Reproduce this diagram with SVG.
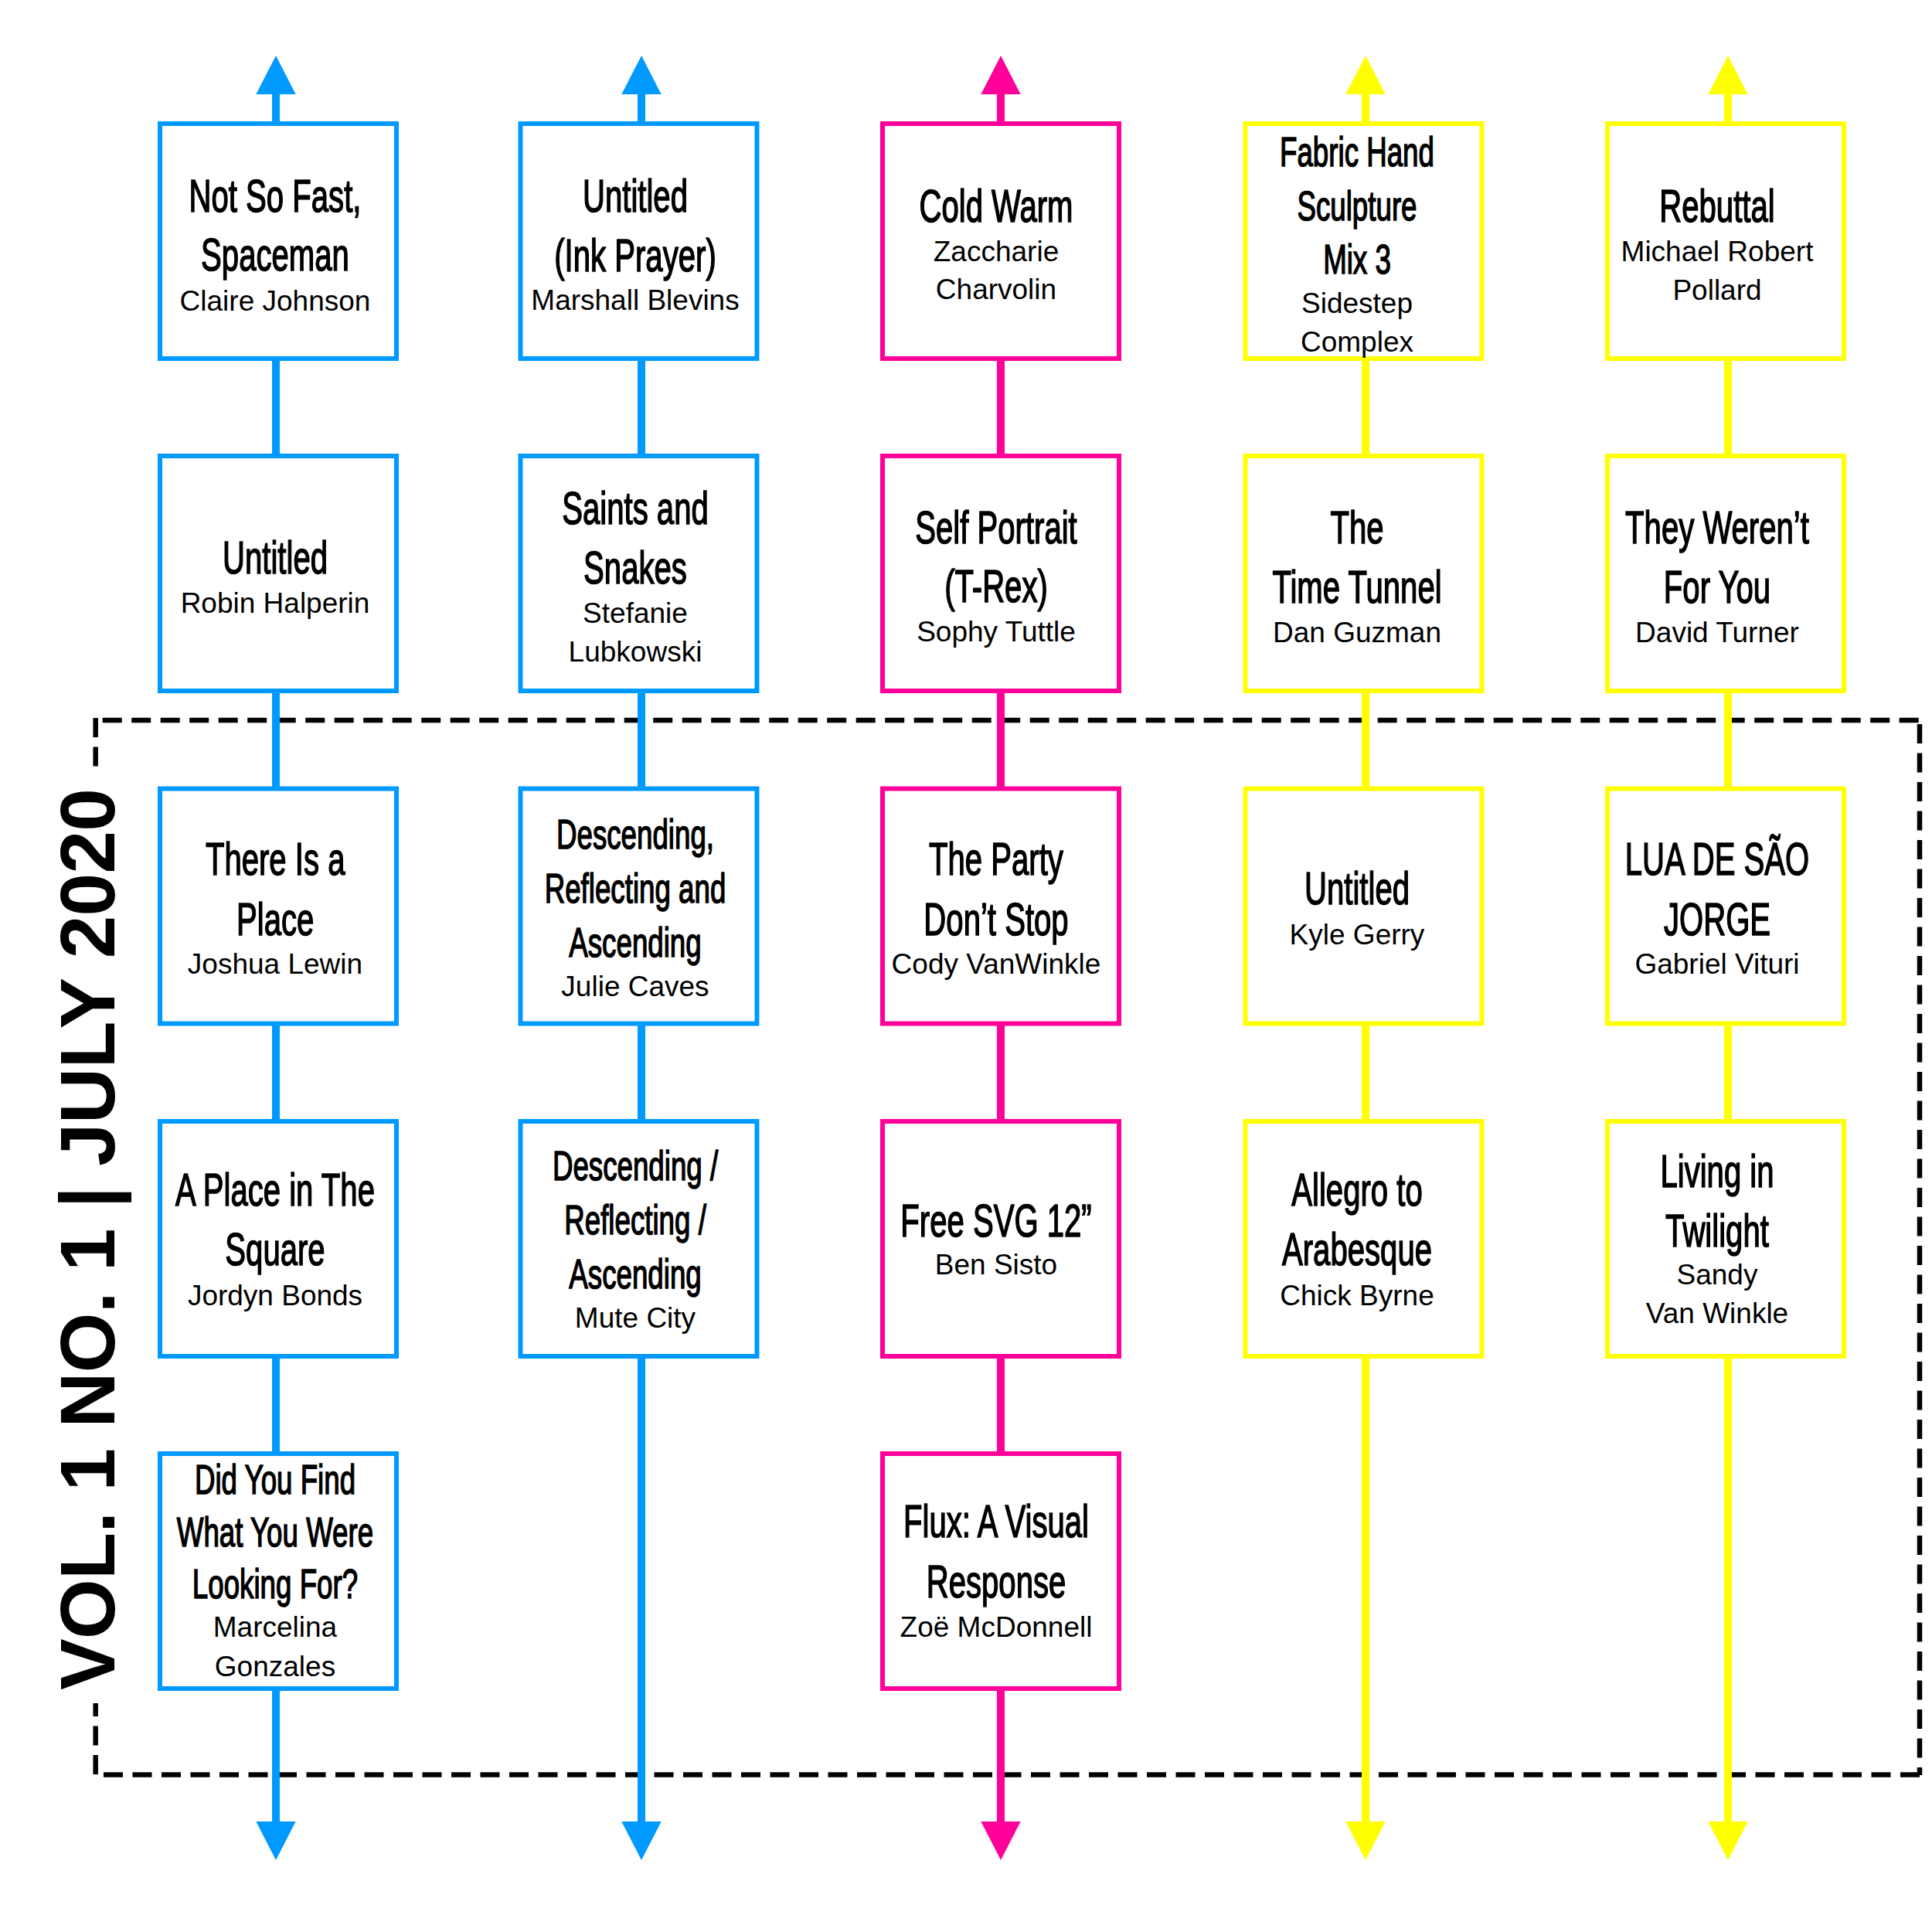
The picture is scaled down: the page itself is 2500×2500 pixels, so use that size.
<svg xmlns="http://www.w3.org/2000/svg" width="2500" height="2500" viewBox="0 0 2500 2500">
<style>
.box{fill:#fff;stroke-width:6}
.b{stroke:#0099FF}.m{stroke:#FF0099}.y{stroke:#FFFF00}
.t{font-family:"Liberation Sans",Arial,sans-serif;font-size:59px;text-anchor:middle;fill:#000;stroke:#000;stroke-width:1.6;transform-box:fill-box;transform-origin:center;transform:scaleX(0.68)}
.ts{font-size:54px}
.a{font-family:"Liberation Sans",Arial,sans-serif;font-size:37px;text-anchor:middle;fill:#000}
.c{stroke-width:10;fill:none}
.dash{stroke:#000;stroke-width:6.5;stroke-dasharray:25 12.5;fill:none}
.vt{font-family:"Liberation Sans",Arial,sans-serif;font-weight:bold;font-size:100px;fill:#000}
</style>
<defs>
<marker id="ab" markerUnits="userSpaceOnUse" markerWidth="50" markerHeight="52" viewBox="0 -26 50 52" refX="0" refY="0" orient="auto"><path d="M0,-25.7L50,0L0,25.7Z" fill="#0099FF"/></marker>
<marker id="am" markerUnits="userSpaceOnUse" markerWidth="50" markerHeight="52" viewBox="0 -26 50 52" refX="0" refY="0" orient="auto"><path d="M0,-25.7L50,0L0,25.7Z" fill="#FF0099"/></marker>
<marker id="ay" markerUnits="userSpaceOnUse" markerWidth="50" markerHeight="52" viewBox="0 -26 50 52" refX="0" refY="0" orient="auto"><path d="M0,-25.7L50,0L0,25.7Z" fill="#FFFF00"/></marker>
</defs>
<rect width="2500" height="2500" fill="#fff"/>

<g id="frame">
<line class="dash" x1="132.7" y1="932" x2="2484" y2="932"/>
<line class="dash" x1="2484" y1="937" x2="2484" y2="2297"/>
<line class="dash" x1="2484" y1="2296.5" x2="124" y2="2296.5"/>
<line class="dash" x1="123.7" y1="2296" x2="123.7" y2="2204"/>
<line class="dash" x1="123.7" y1="929" x2="123.7" y2="992"/>
<text class="vt" transform="translate(148,2187) rotate(-90)" textLength="1167" lengthAdjust="spacing">VOL. 1 NO. 1 | JULY 2020</text>
</g>

<g id="connectors">
<g class="c b">
<line x1="357" y1="160" x2="357" y2="122" marker-end="url(#ab)"/>
<line x1="357" y1="464" x2="357" y2="590"/>
<line x1="357" y1="894" x2="357" y2="1020.5"/>
<line x1="357" y1="1324.5" x2="357" y2="1451"/>
<line x1="357" y1="1755" x2="357" y2="1881"/>
<line x1="357" y1="2185" x2="357" y2="2357" marker-end="url(#ab)"/>
<line x1="830" y1="160" x2="830" y2="122" marker-end="url(#ab)"/>
<line x1="830" y1="464" x2="830" y2="590"/>
<line x1="830" y1="894" x2="830" y2="1020.5"/>
<line x1="830" y1="1324.5" x2="830" y2="1451"/>
<line x1="830" y1="1755" x2="830" y2="2357" marker-end="url(#ab)"/>
</g>
<g class="c m">
<line x1="1295" y1="160" x2="1295" y2="122" marker-end="url(#am)"/>
<line x1="1295" y1="464" x2="1295" y2="590"/>
<line x1="1295" y1="894" x2="1295" y2="1020.5"/>
<line x1="1295" y1="1324.5" x2="1295" y2="1451"/>
<line x1="1295" y1="1755" x2="1295" y2="1881"/>
<line x1="1295" y1="2185" x2="1295" y2="2357" marker-end="url(#am)"/>
</g>
<g class="c y">
<line x1="1767" y1="160" x2="1767" y2="122" marker-end="url(#ay)"/>
<line x1="1767" y1="464" x2="1767" y2="590"/>
<line x1="1767" y1="894" x2="1767" y2="1020.5"/>
<line x1="1767" y1="1324.5" x2="1767" y2="1451"/>
<line x1="1767" y1="1755" x2="1767" y2="2357" marker-end="url(#ay)"/>
<line x1="2236" y1="160" x2="2236" y2="122" marker-end="url(#ay)"/>
<line x1="2236" y1="464" x2="2236" y2="590"/>
<line x1="2236" y1="894" x2="2236" y2="1020.5"/>
<line x1="2236" y1="1324.5" x2="2236" y2="1451"/>
<line x1="2236" y1="1755" x2="2236" y2="2357" marker-end="url(#ay)"/>
</g>
</g>

<g id="n1"><rect class="box b" x="207" y="160" width="306" height="304"/>
<text class="t"><tspan x="356" y="274">Not So Fast,</tspan><tspan x="356" y="350">Spaceman</tspan></text>
<text class="a" x="356" y="402">Claire Johnson</text></g>
<g id="n2"><rect class="box b" x="673.5" y="160" width="306" height="304"/>
<text class="t"><tspan x="822" y="274.5">Untitled</tspan><tspan x="822" y="351">(Ink Prayer)</tspan></text>
<text class="a" x="822" y="401">Marshall Blevins</text></g>
<g id="n3"><rect class="box m" x="1142" y="160" width="306" height="304"/>
<text class="t"><tspan x="1289" y="287">Cold Warm</tspan></text>
<text class="a"><tspan x="1289" y="338">Zaccharie</tspan><tspan x="1289" y="387">Charvolin</tspan></text></g>
<g id="n4"><rect class="box y" x="1611.5" y="160" width="306" height="304"/>
<text class="t ts"><tspan x="1756" y="215">Fabric Hand</tspan><tspan x="1756" y="285">Sculpture</tspan><tspan x="1756" y="354.5">Mix 3</tspan></text>
<text class="a"><tspan x="1756" y="405">Sidestep</tspan><tspan x="1756" y="454.5">Complex</tspan></text></g>
<g id="n5"><rect class="box y" x="2080" y="160" width="306" height="304"/>
<text class="t"><tspan x="2222" y="287">Rebuttal</tspan></text>
<text class="a"><tspan x="2222" y="338">Michael Robert</tspan><tspan x="2222" y="388">Pollard</tspan></text></g>

<g id="n6"><rect class="box b" x="207" y="590" width="306" height="304"/>
<text class="t"><tspan x="356" y="742">Untitled</tspan></text>
<text class="a" x="356" y="793">Robin Halperin</text></g>
<g id="n7"><rect class="box b" x="673.5" y="590" width="306" height="304"/>
<text class="t"><tspan x="822" y="678">Saints and</tspan><tspan x="822" y="755">Snakes</tspan></text>
<text class="a"><tspan x="822" y="806">Stefanie</tspan><tspan x="822" y="856">Lubkowski</tspan></text></g>
<g id="n8"><rect class="box m" x="1142" y="590" width="306" height="304"/>
<text class="t"><tspan x="1289" y="703">Self Portrait</tspan><tspan x="1289" y="779">(T-Rex)</tspan></text>
<text class="a" x="1289" y="830">Sophy Tuttle</text></g>
<g id="n9"><rect class="box y" x="1611.5" y="590" width="306" height="304"/>
<text class="t"><tspan x="1756" y="703">The</tspan><tspan x="1756" y="780">Time Tunnel</tspan></text>
<text class="a" x="1756" y="831">Dan Guzman</text></g>
<g id="n10"><rect class="box y" x="2080" y="590" width="306" height="304"/>
<text class="t"><tspan x="2222" y="703">They Weren’t</tspan><tspan x="2222" y="780">For You</tspan></text>
<text class="a" x="2222" y="831">David Turner</text></g>

<g id="n11"><rect class="box b" x="207" y="1020.5" width="306" height="304"/>
<text class="t"><tspan x="356" y="1132.5">There Is a</tspan><tspan x="356" y="1210">Place</tspan></text>
<text class="a" x="356" y="1260">Joshua Lewin</text></g>
<g id="n12"><rect class="box b" x="673.5" y="1020.5" width="306" height="304"/>
<text class="t ts"><tspan x="822" y="1098">Descending,</tspan><tspan x="822" y="1168.5">Reflecting and</tspan><tspan x="822" y="1238.5">Ascending</tspan></text>
<text class="a" x="822" y="1289">Julie Caves</text></g>
<g id="n13"><rect class="box m" x="1142" y="1020.5" width="306" height="304"/>
<text class="t"><tspan x="1289" y="1132.5">The Party</tspan><tspan x="1289" y="1210">Don’t Stop</tspan></text>
<text class="a" x="1289" y="1260">Cody VanWinkle</text></g>
<g id="n14"><rect class="box y" x="1611.5" y="1020.5" width="306" height="304"/>
<text class="t"><tspan x="1756" y="1170">Untitled</tspan></text>
<text class="a" x="1756" y="1221.5">Kyle Gerry</text></g>
<g id="n15"><rect class="box y" x="2080" y="1020.5" width="306" height="304"/>
<text class="t"><tspan x="2222" y="1132.5">LUA DE SÃO</tspan><tspan x="2222" y="1210">JORGE</tspan></text>
<text class="a" x="2222" y="1260">Gabriel Vituri</text></g>

<g id="n16"><rect class="box b" x="207" y="1451" width="306" height="304"/>
<text class="t"><tspan x="356" y="1560">A Place in The</tspan><tspan x="356" y="1637.5">Square</tspan></text>
<text class="a" x="356" y="1689">Jordyn Bonds</text></g>
<g id="n17"><rect class="box b" x="673.5" y="1451" width="306" height="304"/>
<text class="t ts"><tspan x="822" y="1527">Descending /</tspan><tspan x="822" y="1597.5">Reflecting /</tspan><tspan x="822" y="1667.5">Ascending</tspan></text>
<text class="a" x="822" y="1718">Mute City</text></g>
<g id="n18"><rect class="box m" x="1142" y="1451" width="306" height="304"/>
<text class="t"><tspan x="1289" y="1600">Free SVG 12”</tspan></text>
<text class="a" x="1289" y="1649">Ben Sisto</text></g>
<g id="n19"><rect class="box y" x="1611.5" y="1451" width="306" height="304"/>
<text class="t"><tspan x="1756" y="1560">Allegro to</tspan><tspan x="1756" y="1637.5">Arabesque</tspan></text>
<text class="a" x="1756" y="1689">Chick Byrne</text></g>
<g id="n20"><rect class="box y" x="2080" y="1451" width="306" height="304"/>
<text class="t"><tspan x="2222" y="1536">Living in</tspan><tspan x="2222" y="1613">Twilight</tspan></text>
<text class="a"><tspan x="2222" y="1662">Sandy</tspan><tspan x="2222" y="1712">Van Winkle</tspan></text></g>

<g id="n21"><rect class="box b" x="207" y="1881" width="306" height="304"/>
<text class="t ts"><tspan x="356" y="1933">Did You Find</tspan><tspan x="356" y="2001">What You Were</tspan><tspan x="356" y="2068">Looking For?</tspan></text>
<text class="a"><tspan x="356" y="2118">Marcelina</tspan><tspan x="356" y="2168.5">Gonzales</tspan></text></g>
<g id="n22"><rect class="box m" x="1142" y="1881" width="306" height="304"/>
<text class="t"><tspan x="1289" y="1989">Flux: A Visual</tspan><tspan x="1289" y="2067">Response</tspan></text>
<text class="a" x="1289" y="2118">Zoë McDonnell</text></g>
</svg>
